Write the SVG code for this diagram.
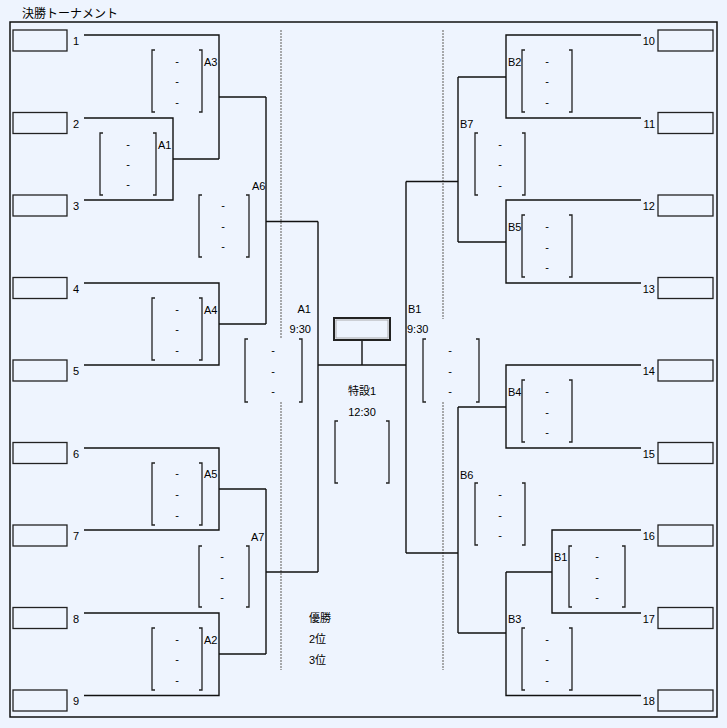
<svg xmlns="http://www.w3.org/2000/svg" width="727" height="728" viewBox="0 0 727 728">
<style>
text{font-family:"Liberation Sans","Noto Sans CJK JP",sans-serif;font-size:11px;fill:#000}
.t{font-size:12px}
.box{fill:none;stroke:#222;stroke-width:1.3}
.br{fill:none;stroke:#222;stroke-width:1.3}
.c{fill:none;stroke:#111;stroke-width:1.4}
.dot{fill:none;stroke:#888;stroke-width:1.4;stroke-dasharray:2 1}
.d{text-anchor:middle}
.e{text-anchor:end}
</style>
<rect x="0" y="0" width="727" height="728" fill="#EEF4FE"/>
<text class="t" x="22" y="18">決勝トーナメント</text>
<rect x="10" y="22" width="707" height="695" fill="none" stroke="#111" stroke-width="1.5"/>

<g id="guides">
<path class="dot" d="M281 30V339M281 402V670M443 30V319M443 402V670"/>
</g>

<g id="connectors">
<path class="c" d="M84 35H219V159M173 159H219M219 97H266"/>
<path class="c" d="M84 118H173V200H84"/>
<path class="c" d="M266 97V324M266 221.5H318"/>
<path class="c" d="M84 283H219V365H84M219 324H266"/>
<path class="c" d="M84 448H219V530H84M219 489H266"/>
<path class="c" d="M84 613H219V695.5H84M219 654H266"/>
<path class="c" d="M266 489V654M266 572H318"/>
<path class="c" d="M318 221.5V572M318 365H406M406 181.5V553M362 341V365"/>
<path class="c" d="M641 35H506V118H641M506 77H458"/>
<path class="c" d="M641 200H506V283H641M506 242H458"/>
<path class="c" d="M458 77V242M458 181.5H406"/>
<path class="c" d="M641 365H506V448H641M506 407H458"/>
<path class="c" d="M641 530H552V613H641M552 572H506"/>
<path class="c" d="M506 572V695.5H641M506 633H458"/>
<path class="c" d="M458 407V633M458 553H406"/>
</g>

<g id="entry1"><rect class="box" x="13" y="30" width="54" height="21"/><text x="73" y="45">1</text></g>
<g id="entry2"><rect class="box" x="13" y="112.5" width="54" height="21"/><text x="73" y="127.5">2</text></g>
<g id="entry3"><rect class="box" x="13" y="195" width="54" height="21"/><text x="73" y="210">3</text></g>
<g id="entry4"><rect class="box" x="13" y="277.5" width="54" height="21"/><text x="73" y="292.5">4</text></g>
<g id="entry5"><rect class="box" x="13" y="360" width="54" height="21"/><text x="73" y="375">5</text></g>
<g id="entry6"><rect class="box" x="13" y="442.5" width="54" height="21"/><text x="73" y="457.5">6</text></g>
<g id="entry7"><rect class="box" x="13" y="525" width="54" height="21"/><text x="73" y="540">7</text></g>
<g id="entry8"><rect class="box" x="13" y="607.5" width="54" height="21"/><text x="73" y="622.5">8</text></g>
<g id="entry9"><rect class="box" x="13" y="690" width="54" height="21"/><text x="73" y="705">9</text></g>

<g id="entry10"><rect class="box" x="658" y="30" width="55" height="21"/><text class="e" x="655" y="45">10</text></g>
<g id="entry11"><rect class="box" x="658" y="112.5" width="55" height="21"/><text class="e" x="655" y="127.5">11</text></g>
<g id="entry12"><rect class="box" x="658" y="195" width="55" height="21"/><text class="e" x="655" y="210">12</text></g>
<g id="entry13"><rect class="box" x="658" y="277.5" width="55" height="21"/><text class="e" x="655" y="292.5">13</text></g>
<g id="entry14"><rect class="box" x="658" y="360" width="55" height="21"/><text class="e" x="655" y="375">14</text></g>
<g id="entry15"><rect class="box" x="658" y="442.5" width="55" height="21"/><text class="e" x="655" y="457.5">15</text></g>
<g id="entry16"><rect class="box" x="658" y="525" width="55" height="21"/><text class="e" x="655" y="540">16</text></g>
<g id="entry17"><rect class="box" x="658" y="607.5" width="55" height="21"/><text class="e" x="655" y="622.5">17</text></g>
<g id="entry18"><rect class="box" x="658" y="690" width="55" height="21"/><text class="e" x="655" y="705">18</text></g>

<g id="matchA3"><path class="br" d="M155 50H152V112H155M199 50H202V112H199"/><text class="d" x="177" y="64.5">-</text><text class="d" x="177" y="84.5">-</text><text class="d" x="177" y="105.5">-</text><text x="204" y="66">A3</text></g>
<g id="matchA1"><path class="br" d="M103 133H100V195H103M153 133H156V195H153"/><text class="d" x="128" y="147.5">-</text><text class="d" x="128" y="167.5">-</text><text class="d" x="128" y="187.5">-</text><text x="158" y="149">A1</text></g>
<g id="matchA6"><path class="br" d="M202 195H199V257H202M246 195H249V257H246"/><text class="d" x="223" y="208.5">-</text><text class="d" x="223" y="229.5">-</text><text class="d" x="223" y="250">-</text><text x="252" y="190">A6</text></g>
<g id="matchA4"><path class="br" d="M155 298H152V360H155M199 298H202V360H199"/><text class="d" x="177" y="312.5">-</text><text class="d" x="177" y="332.5">-</text><text class="d" x="177" y="353.5">-</text><text x="204" y="314">A4</text></g>
<g id="matchA5"><path class="br" d="M155 463H152V525H155M199 463H202V525H199"/><text class="d" x="177" y="476.5">-</text><text class="d" x="177" y="497.5">-</text><text class="d" x="177" y="518.5">-</text><text x="204" y="478">A5</text></g>
<g id="matchA7"><path class="br" d="M202 546H199V607H202M246 546H249V607H246"/><text class="d" x="222" y="559.5">-</text><text class="d" x="222" y="580.5">-</text><text class="d" x="222" y="600.5">-</text><text x="251" y="541">A7</text></g>
<g id="matchA2"><path class="br" d="M155 628H152V690H155M199 628H202V690H199"/><text class="d" x="177" y="642.5">-</text><text class="d" x="177" y="662.5">-</text><text class="d" x="177" y="683.5">-</text><text x="204" y="644">A2</text></g>

<g id="semiA"><rect x="245" y="339" width="57" height="63" fill="#EEF4FE"/><path class="br" d="M248 339H245V402H248M299 339H302V402H299"/><text class="d" x="273" y="353.5">-</text><text class="d" x="273" y="374.5">-</text><text class="d" x="273" y="394.5">-</text><text class="e" x="311" y="313">A1</text><text class="e" x="311" y="333">9:30</text></g>
<g id="semiB"><rect x="423" y="339" width="56" height="63" fill="#EEF4FE"/><path class="br" d="M426 339H423V402H426M476 339H479V402H476"/><text class="d" x="450" y="353.5">-</text><text class="d" x="450" y="374.5">-</text><text class="d" x="450" y="394.5">-</text><text x="408" y="313">B1</text><text x="407" y="333">9:30</text></g>

<g id="final"><rect x="334" y="318" width="56" height="22" fill="none" stroke="#222" stroke-width="2"/><rect x="336" y="320" width="52" height="18" fill="none" stroke="#999" stroke-width="0.8"/><text class="d" x="362" y="395">特設1</text><text class="d" x="362" y="416">12:30</text><path class="br" d="M338 421H335V483H338M386 421H389V483H386"/></g>

<g id="results"><text x="309" y="622">優勝</text><text x="309" y="643">2位</text><text x="309" y="664">3位</text></g>

<g id="matchB2"><path class="br" d="M525 50H522V112H525M569 50H572V112H569"/><text class="d" x="547" y="64.5">-</text><text class="d" x="547" y="84.5">-</text><text class="d" x="547" y="105.5">-</text><text x="508" y="66">B2</text></g>
<g id="matchB7"><path class="br" d="M478 133H475V195H478M522 133H525V195H522"/><text class="d" x="500" y="147.5">-</text><text class="d" x="500" y="167.5">-</text><text class="d" x="500" y="188.5">-</text><text x="460" y="128">B7</text></g>
<g id="matchB5"><path class="br" d="M525 215H522V277H525M569 215H572V277H569"/><text class="d" x="547" y="229.5">-</text><text class="d" x="547" y="250.5">-</text><text class="d" x="547" y="270.5">-</text><text x="508" y="231">B5</text></g>
<g id="matchB4"><path class="br" d="M525 380H522V442H525M569 380H572V442H569"/><text class="d" x="547" y="394.5">-</text><text class="d" x="547" y="415.5">-</text><text class="d" x="547" y="435.5">-</text><text x="508" y="396">B4</text></g>
<g id="matchB6"><path class="br" d="M478 483H475V545H478M522 483H525V545H522"/><text class="d" x="500" y="497.5">-</text><text class="d" x="500" y="518.5">-</text><text class="d" x="500" y="538.5">-</text><text x="460" y="479">B6</text></g>
<g id="matchB1"><path class="br" d="M572 546H569V607H572M622 546H625V607H622"/><text class="d" x="597" y="559.5">-</text><text class="d" x="597" y="580.5">-</text><text class="d" x="597" y="600.5">-</text><text x="554" y="561">B1</text></g>
<g id="matchB3"><path class="br" d="M525 628H522V690H525M569 628H572V690H569"/><text class="d" x="547" y="642.5">-</text><text class="d" x="547" y="662.5">-</text><text class="d" x="547" y="683.5">-</text><text x="508" y="623">B3</text></g>
</svg>
